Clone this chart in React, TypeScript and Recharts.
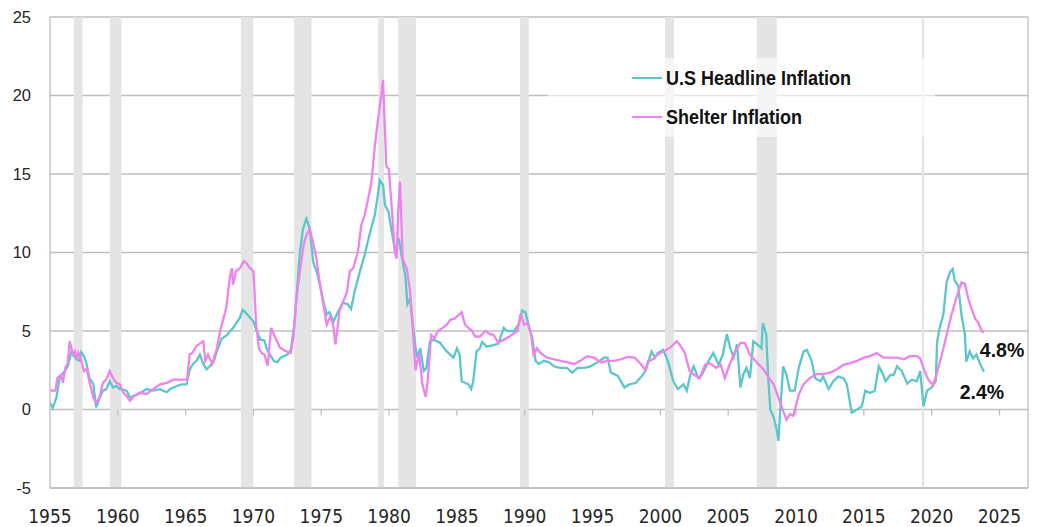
import {
  LineChart,
  Line,
  XAxis,
  YAxis,
  CartesianGrid,
  ReferenceArea,
  ReferenceLine,
  ReferenceDot,
  Legend,
} from "recharts";

// [year, yoy %] (chart's own year scale)
const headline: [number, number][] = [
  [1955.0, 0.45], [1955.2, 0.1], [1955.47, 0.75], [1955.7, 2.0], [1955.85, 2.2],
  [1956.1, 2.45], [1956.33, 2.8], [1956.58, 3.7], [1956.8, 3.4], [1956.95, 3.2],
  [1957.2, 3.1], [1957.3, 3.65], [1957.5, 3.4], [1957.7, 2.9], [1957.9, 2.0],
  [1958.2, 1.6], [1958.4, 0.13], [1958.67, 0.75], [1958.9, 1.2], [1959.15, 1.3],
  [1959.4, 1.8], [1959.65, 1.4], [1959.9, 1.5], [1960.15, 1.3], [1960.65, 1.2],
  [1960.9, 0.75], [1961.1, 0.85], [1961.6, 1.0], [1962.1, 1.3], [1962.6, 1.2],
  [1963.1, 1.3], [1963.6, 1.1], [1963.85, 1.3], [1964.35, 1.5], [1964.7, 1.6],
  [1965.07, 1.6], [1965.3, 2.55], [1965.55, 2.9], [1965.8, 3.1], [1966.05, 3.5],
  [1966.3, 2.9], [1966.55, 2.55], [1967.05, 3.0], [1967.3, 3.7], [1967.65, 4.5],
  [1968.0, 4.7], [1968.5, 5.2], [1969.0, 5.85], [1969.2, 6.35], [1969.5, 6.1],
  [1970.0, 5.6], [1970.25, 5.0], [1970.5, 4.45], [1970.8, 4.4], [1971.0, 3.8],
  [1971.5, 3.1], [1971.75, 3.0], [1972.0, 3.3], [1972.5, 3.5], [1972.75, 3.8],
  [1973.0, 5.3], [1973.2, 7.5], [1973.42, 10.0], [1973.65, 11.5], [1973.9, 12.15],
  [1974.15, 11.5], [1974.4, 9.4], [1974.65, 8.8], [1974.9, 7.95], [1975.15, 6.9],
  [1975.4, 6.05], [1975.6, 6.2], [1975.9, 5.6], [1976.25, 6.25], [1976.6, 6.8],
  [1976.95, 6.7], [1977.2, 6.4], [1977.45, 7.5], [1977.85, 8.8], [1978.2, 9.85],
  [1978.6, 11.3], [1978.95, 12.4], [1979.2, 13.85], [1979.3, 14.6], [1979.55, 14.3],
  [1979.7, 13.0], [1979.95, 12.6], [1980.2, 11.3], [1980.45, 10.05], [1980.7, 10.9],
  [1980.95, 9.65], [1981.2, 8.5], [1981.35, 6.7], [1981.55, 7.05], [1981.8, 5.0],
  [1982.05, 3.3], [1982.3, 3.9], [1982.55, 2.45], [1982.75, 2.65], [1983.0, 4.3],
  [1983.25, 4.45], [1983.75, 4.25], [1984.25, 3.7], [1984.75, 3.3], [1985.0, 3.9],
  [1985.2, 3.5], [1985.35, 1.8], [1985.6, 1.7], [1985.85, 1.6], [1986.05, 1.3],
  [1986.2, 1.8], [1986.45, 3.7], [1986.7, 3.9], [1986.85, 4.3], [1987.2, 4.0],
  [1987.7, 4.1], [1988.05, 4.2], [1988.45, 5.2], [1988.7, 5.0], [1989.2, 5.0],
  [1989.55, 5.4], [1989.8, 6.3], [1990.05, 6.2], [1990.3, 5.3], [1990.55, 4.55],
  [1990.8, 3.1], [1991.05, 2.9], [1991.4, 3.1], [1991.8, 3.0], [1992.15, 2.75],
  [1992.6, 2.65], [1993.1, 2.65], [1993.5, 2.35], [1993.9, 2.65], [1994.4, 2.65],
  [1994.85, 2.75], [1995.35, 3.0], [1995.85, 3.3], [1996.1, 3.3], [1996.35, 2.35],
  [1996.85, 2.15], [1997.35, 1.4], [1997.7, 1.6], [1998.2, 1.7], [1998.7, 2.2],
  [1998.95, 2.6], [1999.35, 3.7], [1999.6, 3.3], [1999.8, 3.6], [2000.2, 3.8],
  [2000.55, 3.1], [2000.95, 1.8], [2001.3, 1.3], [2001.7, 1.6], [2001.95, 1.2],
  [2002.2, 2.2], [2002.45, 2.75], [2002.8, 2.0], [2003.05, 2.2], [2003.3, 2.65],
  [2003.55, 3.1], [2003.9, 3.6], [2004.3, 2.85], [2004.6, 3.5], [2004.9, 4.8],
  [2005.15, 3.9], [2005.4, 3.3], [2005.65, 4.15], [2005.9, 1.4], [2006.1, 2.2],
  [2006.35, 2.65], [2006.6, 2.0], [2006.85, 4.35], [2007.2, 4.1], [2007.45, 3.9],
  [2007.55, 5.5], [2007.8, 4.8], [2007.95, 2.0], [2008.1, 0.0], [2008.35, -0.5],
  [2008.6, -1.4], [2008.7, -2.0], [2008.8, -0.5], [2009.05, 2.75], [2009.3, 2.2],
  [2009.55, 1.2], [2009.9, 1.2], [2010.2, 2.65], [2010.55, 3.7], [2010.8, 3.8],
  [2011.15, 3.1], [2011.4, 2.0], [2011.8, 1.8], [2012.0, 2.1], [2012.4, 1.3],
  [2012.75, 1.8], [2013.1, 2.1], [2013.5, 2.0], [2013.75, 1.6], [2014.1, -0.2],
  [2014.5, 0.0], [2014.85, 0.2], [2015.1, 1.2], [2015.45, 1.05], [2015.8, 1.2],
  [2016.1, 2.75], [2016.35, 2.35], [2016.6, 1.8], [2016.95, 2.2], [2017.2, 2.2],
  [2017.45, 2.75], [2017.8, 2.45], [2018.2, 1.65], [2018.55, 1.9], [2018.9, 1.8],
  [2019.15, 2.45], [2019.4, 0.2], [2019.65, 1.2], [2020.0, 1.4], [2020.3, 1.8],
  [2020.4, 4.3], [2020.6, 5.25], [2020.85, 6.0], [2021.1, 8.1], [2021.35, 8.75],
  [2021.55, 8.95], [2021.7, 8.2], [2021.95, 7.9], [2022.2, 6.0], [2022.45, 4.75],
  [2022.55, 3.05], [2022.8, 3.7], [2023.05, 3.25], [2023.3, 3.5], [2023.55, 2.95],
  [2023.85, 2.4],
];

const shelter: [number, number][] = [
  [1955.0, 1.2], [1955.4, 1.2], [1955.55, 2.0], [1955.8, 2.2], [1955.95, 1.7],
  [1956.15, 2.7], [1956.3, 2.9], [1956.45, 4.35], [1956.7, 3.5], [1956.85, 3.7],
  [1957.0, 3.2], [1957.1, 3.6], [1957.25, 3.3], [1957.5, 2.45], [1957.7, 2.6],
  [1957.9, 1.8], [1958.2, 0.76], [1958.4, 0.44], [1958.65, 0.76], [1958.9, 1.7],
  [1959.15, 1.9], [1959.4, 2.45], [1959.65, 2.0], [1959.9, 1.7], [1960.15, 1.6],
  [1960.4, 1.08], [1960.65, 0.86], [1960.9, 0.55], [1961.15, 0.8], [1961.6, 1.08],
  [1962.1, 0.97], [1962.6, 1.3], [1963.1, 1.6], [1963.6, 1.7], [1964.1, 1.9],
  [1964.6, 1.9], [1965.1, 1.9], [1965.3, 3.5], [1965.5, 3.6], [1965.75, 4.0],
  [1966.05, 4.2], [1966.3, 4.35], [1966.45, 3.1], [1966.65, 3.5], [1966.95, 2.9],
  [1967.3, 3.9], [1967.6, 5.2], [1968.0, 6.5], [1968.25, 8.4], [1968.4, 9.0],
  [1968.5, 7.95], [1968.7, 8.8], [1969.0, 9.0], [1969.3, 9.45], [1969.5, 9.3],
  [1969.75, 9.0], [1970.0, 8.8], [1970.2, 5.4], [1970.4, 3.9], [1970.6, 3.6],
  [1970.8, 3.5], [1971.05, 2.8], [1971.3, 5.2], [1971.6, 4.6], [1971.95, 3.95],
  [1972.3, 3.75], [1972.75, 3.6], [1972.95, 4.6], [1973.15, 6.9], [1973.42, 8.8],
  [1973.7, 10.5], [1973.9, 11.1], [1974.15, 11.5], [1974.4, 10.6], [1974.65, 9.6],
  [1974.9, 7.95], [1975.15, 6.7], [1975.4, 5.4], [1975.65, 5.9], [1975.85, 5.5],
  [1976.05, 4.15], [1976.35, 6.3], [1976.9, 7.5], [1977.1, 8.8], [1977.35, 9.0],
  [1977.7, 10.05], [1977.95, 11.75], [1978.2, 12.4], [1978.45, 13.4], [1978.7, 14.5],
  [1978.95, 16.8], [1979.2, 18.6], [1979.45, 20.2], [1979.55, 21.0], [1979.68, 18.0],
  [1979.8, 15.5], [1979.98, 15.3], [1980.2, 12.8], [1980.42, 10.05], [1980.55, 9.6],
  [1980.67, 12.6], [1980.8, 14.5], [1980.9, 12.15], [1981.0, 9.6], [1981.3, 9.0],
  [1981.55, 7.5], [1981.75, 5.0], [1981.95, 2.5], [1982.2, 3.6], [1982.45, 1.6],
  [1982.7, 0.8], [1982.85, 1.9], [1983.1, 4.75], [1983.35, 4.55], [1983.6, 5.0],
  [1983.95, 5.2], [1984.25, 5.4], [1984.5, 5.7], [1984.85, 5.8], [1985.1, 6.0],
  [1985.35, 6.2], [1985.6, 5.4], [1985.85, 5.2], [1986.1, 5.0], [1986.35, 4.65],
  [1986.7, 4.65], [1987.1, 5.0], [1987.45, 4.8], [1987.7, 4.75], [1988.05, 4.25],
  [1988.45, 4.45], [1988.8, 4.6], [1989.2, 4.85], [1989.45, 5.0], [1989.7, 6.1],
  [1989.95, 5.4], [1990.2, 5.5], [1990.45, 4.9], [1990.65, 3.5], [1990.9, 3.9],
  [1991.15, 3.6], [1991.65, 3.3], [1992.15, 3.2], [1992.65, 3.1], [1993.15, 3.0],
  [1993.65, 2.9], [1994.1, 3.1], [1994.6, 3.4], [1995.1, 3.3], [1995.6, 3.0],
  [1996.1, 3.1], [1996.6, 3.1], [1997.1, 3.2], [1997.6, 3.35], [1998.1, 3.3],
  [1998.55, 2.9], [1998.9, 2.5], [1999.1, 3.1], [1999.45, 3.2], [1999.8, 3.5],
  [2000.45, 3.8], [2000.8, 4.0], [2001.2, 4.35], [2001.45, 4.1], [2001.8, 3.6],
  [2002.15, 2.45], [2002.5, 2.2], [2002.9, 2.0], [2003.3, 2.85], [2003.65, 2.95],
  [2004.1, 2.65], [2004.45, 2.85], [2004.75, 2.0], [2005.1, 2.85], [2005.5, 3.7],
  [2005.9, 4.25], [2006.2, 4.25], [2006.6, 3.5], [2007.1, 3.0], [2007.6, 2.55],
  [2008.0, 2.0], [2008.35, 1.6], [2008.7, 0.75], [2009.05, -0.1], [2009.3, -0.65],
  [2009.55, -0.3], [2009.8, -0.4], [2010.2, 0.95], [2010.55, 1.6], [2011.0, 2.0],
  [2011.5, 2.25], [2012.0, 2.25], [2012.5, 2.35], [2013.0, 2.55], [2013.5, 2.85],
  [2014.0, 2.95], [2014.5, 3.1], [2015.0, 3.3], [2015.45, 3.4], [2015.95, 3.6],
  [2016.45, 3.3], [2016.95, 3.3], [2017.45, 3.3], [2017.95, 3.2], [2018.4, 3.4],
  [2018.9, 3.4], [2019.15, 3.25], [2019.5, 2.4], [2019.75, 1.9], [2020.1, 1.55],
  [2020.35, 2.2], [2020.75, 3.5], [2021.1, 4.75], [2021.45, 6.0], [2021.8, 7.05],
  [2022.2, 8.1], [2022.45, 8.0], [2022.7, 7.05], [2022.95, 6.4], [2023.2, 5.8],
  [2023.45, 5.5], [2023.65, 5.05], [2023.85, 4.9],
];

// recession shading [start, end]
const recessions: [number, number][] = [
  [1956.75, 1957.4], [1959.41, 1960.27], [1969.07, 1969.98], [1973.0, 1974.28],
  [1979.2, 1979.62], [1980.67, 1981.98], [1989.65, 1990.3], [2000.34, 2001.0],
  [2007.1, 2008.58], [2019.27, 2019.44],
];

const xTicks = [1955, 1960, 1965, 1970, 1975, 1980, 1985, 1990, 1995, 2000, 2005, 2010, 2015, 2020, 2025];
const yTicks = [-5, 0, 5, 10, 15, 20, 25];

const TEAL = "#5CC6CA";
const PINK = "#EE82EE";
const GRID = "#BEBEBE";
const NARROW = "'Liberation Sans Narrow', 'Arial Narrow', 'DejaVu Sans Condensed', sans-serif";
const ARIAL = "'Liberation Sans', Arial, sans-serif";

const headlineData = headline.map(([x, v]) => ({ x, v }));
const shelterData = shelter.map(([x, v]) => ({ x, v }));

function LegendBox() {
  const items = [
    { label: "U.S Headline Inflation", color: TEAL },
    { label: "Shelter Inflation", color: PINK },
  ];
  return (
    <div style={{ position: "relative", width: 387, height: 79 }}>
      {items.map((it, i) => (
        <div
          key={it.label}
          style={{
            position: "absolute",
            left: 84,
            top: 20 + i * 39 - 12,
            height: 24,
            display: "flex",
            alignItems: "center",
          }}
        >
          <span style={{ display: "inline-block", width: 30, height: 2.5, background: it.color, marginRight: 4 }} />
          <span
            style={{
              display: "inline-block",
              fontFamily: ARIAL,
              fontWeight: 700,
              fontSize: 20,
              color: "#111",
              whiteSpace: "nowrap",
              transform: "scaleX(0.9)",
              transformOrigin: "left center",
            }}
          >
            {it.label}
          </span>
        </div>
      ))}
    </div>
  );
}

export default function App() {
  return (
    <div style={{ position: "fixed", left: 0, top: 0, width: 1041, height: 527, background: "#fff" }}>
      <LineChart width={1041} height={527} margin={{ top: 17, right: 13, bottom: 0, left: 0 }}>
        <CartesianGrid horizontal vertical={false} stroke={GRID} strokeWidth={1.3} />
        {recessions.map(([a, b]) => (
          <ReferenceArea key={a} x1={a} x2={b} fill="#E4E4E4" fillOpacity={1} stroke="none" />
        ))}
        <XAxis
          type="number"
          dataKey="x"
          domain={[1955, 2027.1]}
          ticks={xTicks}
          allowDataOverflow
          height={39}
          tickLine={false}
          axisLine={{ stroke: GRID, strokeWidth: 1.3 }}
          tickMargin={16}
          tick={{ fontFamily: NARROW, fontSize: 19, fill: "#262626" }}
        />
        <YAxis
          type="number"
          domain={[-5, 25]}
          ticks={yTicks}
          width={50}
          tickLine={false}
          axisLine={{ stroke: GRID, strokeWidth: 1.3 }}
          tickMargin={13}
          tick={{ fontFamily: ARIAL, fontSize: 16.5, fill: "#262626" }}
        />
        <ReferenceLine x={2027.1} stroke={GRID} strokeWidth={1.3} />
        {xTicks.slice(1).map((t) => (
          <ReferenceLine
            key={t}
            segment={[
              { x: t, y: 0 },
              { x: t, y: -0.38 },
            ]}
            stroke={GRID}
            strokeWidth={1.3}
          />
        ))}
        <Line
          data={headlineData}
          dataKey="v"
          name="U.S Headline Inflation"
          stroke={TEAL}
          strokeWidth={2.3}
          dot={false}
          isAnimationActive={false}
        />
        <Line
          data={shelterData}
          dataKey="v"
          name="Shelter Inflation"
          stroke={PINK}
          strokeWidth={2.3}
          dot={false}
          isAnimationActive={false}
        />
        <ReferenceDot
          x={2023.55}
          y={3.79}
          r={0}
          label={{
            value: "4.8%",
            position: "right",
            offset: 0,
            fontFamily: ARIAL,
            fontWeight: 700,
            fontSize: 19.5,
            fill: "#111",
          }}
        />
        <ReferenceDot
          x={2022.07}
          y={1.11}
          r={0}
          label={{
            value: "2.4%",
            position: "right",
            offset: 0,
            fontFamily: ARIAL,
            fontWeight: 700,
            fontSize: 19.5,
            fill: "#111",
          }}
        />
        <Legend
          layout="vertical"
          align="center"
          verticalAlign="middle"
          content={() => <LegendBox />}
          wrapperStyle={{
            left: 548,
            top: 58,
            width: 387,
            height: 79,
            background: "rgba(255,255,255,0.62)",
          }}
        />
      </LineChart>
    </div>
  );
}
